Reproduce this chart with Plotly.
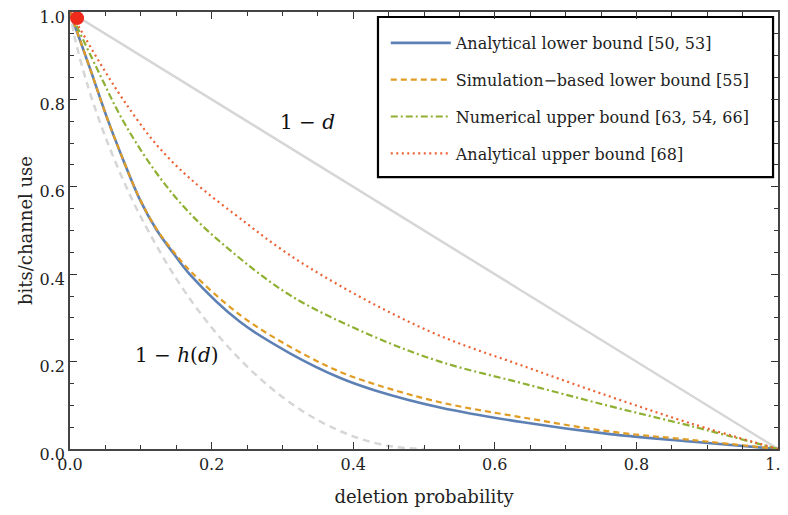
import plotly.graph_objects as go

# ---- data ----
d_blue = [0, 0.0282, 0.0518, 0.0753, 0.0989, 0.1224, 0.146, 0.1695, 0.24, 0.3107, 0.381, 0.431, 0.5226, 0.64, 0.7627, 0.876, 1.0]
v_blue = [1.0, 0.871, 0.760, 0.661, 0.570, 0.501, 0.448, 0.399, 0.291, 0.219, 0.163, 0.134, 0.095, 0.061, 0.034, 0.017, 0.0]

d_orange = [0, 0.0282, 0.0518, 0.0753, 0.0989, 0.1224, 0.146, 0.1695, 0.24, 0.3107, 0.381, 0.431, 0.5226, 0.64, 0.7627, 0.876, 1.0]
v_orange = [1.0, 0.871, 0.760, 0.661, 0.571, 0.503, 0.452, 0.408, 0.307, 0.234, 0.177, 0.148, 0.107, 0.072, 0.040, 0.021, 0.0]

d_green = [0, 0.0377, 0.0753, 0.1224, 0.1695, 0.226, 0.3107, 0.4237, 0.5226, 0.64, 0.7627, 0.876, 1.0]
v_green = [1.0, 0.872, 0.750, 0.631, 0.539, 0.455, 0.352, 0.261, 0.200, 0.150, 0.098, 0.053, 0.0]

d_red = [0, 0.014, 0.0424, 0.0753, 0.1224, 0.1695, 0.2496, 0.294, 0.339, 0.4237, 0.5226, 0.64, 0.7627, 0.876, 1.0]
v_red = [1.0, 0.962, 0.883, 0.799, 0.696, 0.619, 0.516, 0.462, 0.414, 0.336, 0.259, 0.190, 0.120, 0.059, 0.0]

d_gallager = [0, 0.005, 0.01, 0.02, 0.03, 0.05, 0.075, 0.1, 0.15, 0.2, 0.25, 0.3, 0.35, 0.4, 0.45, 0.5]
v_gallager = [1.0, 0.955, 0.919, 0.859, 0.806, 0.714, 0.616, 0.531, 0.390, 0.278, 0.189, 0.119, 0.066, 0.029, 0.007, 0.0]

d_linear = [0.0, 1.0]
v_linear = [1.0, 0.0]

dot_d = [0.01]
dot_v = [0.986]

names = ["Analytical lower bound [50, 53]",
         "Simulation\u2212based lower bound [55]",
         "Numerical upper bound [63, 54, 66]",
         "Analytical upper bound [68]"]

tick_vals = [0.0, 0.2, 0.4, 0.6, 0.8, 1.0]
tick_text = ["0.0", "0.2", "0.4", "0.6", "0.8", "1.0"]

FONT = "DejaVu Serif"
GRAY = "#d6d6d6"

fig = go.Figure()

fig.add_trace(go.Scatter(x=d_linear, y=v_linear, mode="lines",
                         line=dict(color=GRAY, width=2.5), showlegend=False, hoverinfo="skip"))
fig.add_trace(go.Scatter(x=d_gallager, y=v_gallager, mode="lines", line_shape="spline",
                         line=dict(color=GRAY, width=2.5, dash="7px,5px"), showlegend=False, hoverinfo="skip"))

fig.add_trace(go.Scatter(x=d_blue, y=v_blue, mode="lines", line_shape="spline", name=names[0],
                         legendgroup="a", line=dict(color="#5e81b5", width=2.6)))
fig.add_trace(go.Scatter(x=d_orange, y=v_orange, mode="lines", line_shape="spline", name=names[1],
                         legendgroup="b", line=dict(color="#e19c24", width=2.2, dash="6px,4px")))
fig.add_trace(go.Scatter(x=d_green, y=v_green, mode="lines", line_shape="spline", name=names[2],
                         legendgroup="c", line=dict(color="#8fb032", width=2.2, dash="7px,3px,2px,3px")))
fig.add_trace(go.Scatter(x=d_red, y=v_red, mode="lines", line_shape="spline", name=names[3],
                         legendgroup="d", line=dict(color="#eb6235", width=2.2, dash="2px,3.5px")))

fig.add_trace(go.Scatter(x=dot_d, y=dot_v, mode="markers", showlegend=False, hoverinfo="skip",
                         marker=dict(color="#ee2a1b", size=14), cliponaxis=False))

axis_common = dict(range=[0, 1], tickvals=tick_vals, ticktext=tick_text, ticks="inside", ticklen=7,
                   tickwidth=1.3, tickcolor="#333", showline=True, linecolor="#444", linewidth=1.6,
                   mirror="ticks", showgrid=False, zeroline=False, automargin=False,
                   ticklabeloverflow="allow",
                   tickfont=dict(family=FONT, size=16, color="#222"),
                   minor=dict(dtick=0.05, ticks="inside", ticklen=4, tickwidth=1, tickcolor="#333"))

fig.update_xaxes(**axis_common, title=dict(text="deletion probability", standoff=17,
                                           font=dict(family=FONT, size=18, color="#222")))
fig.update_yaxes(**axis_common, ticklabelshift=5,
                 title=dict(text="bits/channel use", standoff=2,
                            font=dict(family=FONT, size=18, color="#222")))

fig.add_annotation(x=0.335, y=0.748, text="1 \u2212 <i>d</i>", showarrow=False,
                   font=dict(family=FONT, size=20, color="#111"))
fig.add_annotation(x=0.151, y=0.215, text="1 \u2212 <i>h</i>(<i>d</i>)", showarrow=False,
                   font=dict(family=FONT, size=20, color="#111"))

# legend frame
fig.add_shape(type="rect", xref="paper", yref="paper", x0=0.435, x1=0.993, y0=0.622, y1=0.9886,
              line=dict(color="black", width=2.2), fillcolor="white", layer="below")

fig.update_layout(
    width=780, height=507,
    margin=dict(l=62, r=10, t=4, b=66),
    paper_bgcolor="white", plot_bgcolor="white",
    legend=dict(x=0.446, y=0.968, xanchor="left", yanchor="top",
                borderwidth=0, bgcolor="rgba(0,0,0,0)",
                font=dict(family=FONT, size=16, color="#222"),
                itemwidth=60, tracegroupgap=13, traceorder="grouped"),
)

fig.write_html("out.html")
